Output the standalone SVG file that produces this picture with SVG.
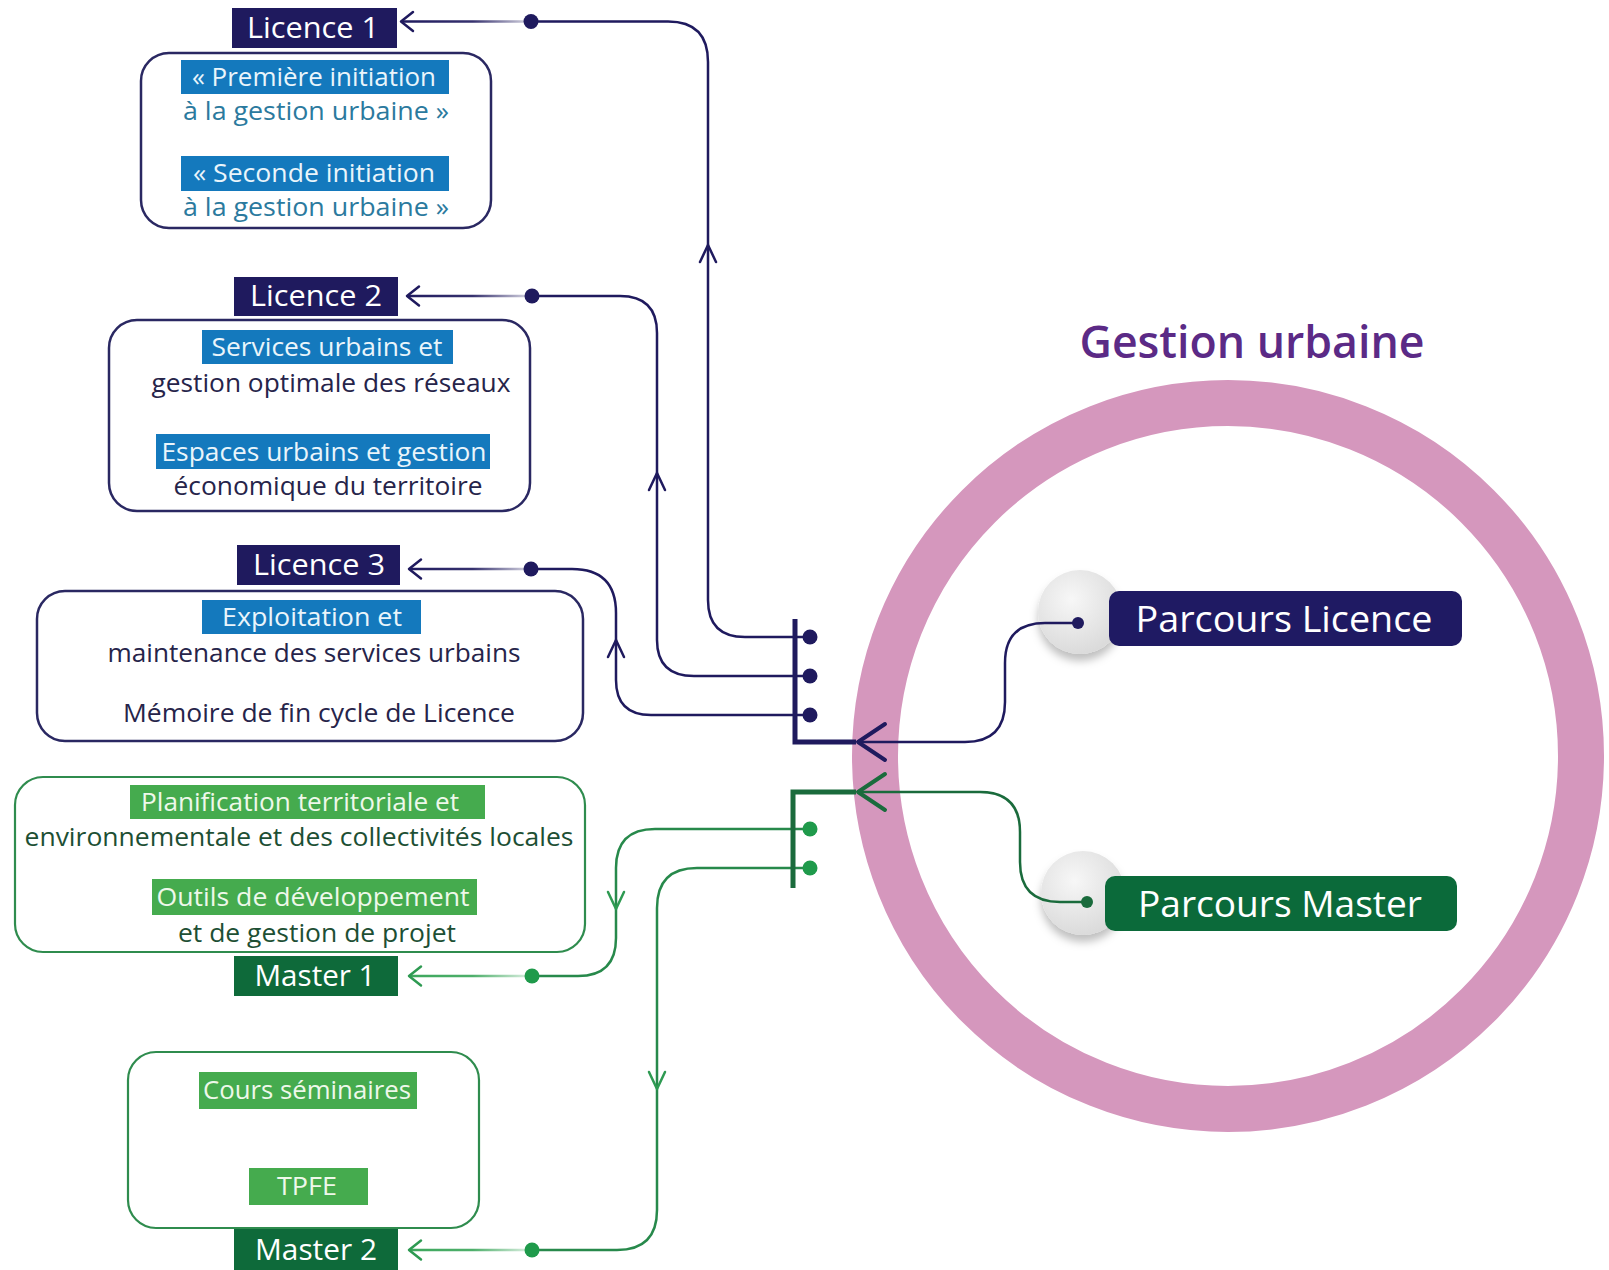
<svg xmlns="http://www.w3.org/2000/svg" width="1609" height="1270" viewBox="0 0 1609 1270">
<style>
text{font-family:"Open Sans","Noto Sans","Liberation Sans",sans-serif;}
.lbl{fill:#ffffff;font-size:29px;text-anchor:middle;}
.body{font-size:25px;text-anchor:middle;}
.hl{fill:#eaf5fb;}
.hlg{fill:#eef8ea;}
.tl1{fill:#2b7a9e;}
.tnv{fill:#26244a;}
.tgr{fill:#1d4f34;}
.navybox{fill:#1f1a5e;}
.greenbox{fill:#0e6a3a;}
.bluehl{fill:#1479bd;}
.greenhl{fill:#45ab4e;}
.frameN{fill:#ffffff;stroke:#2a2862;stroke-width:2.5;}
.frameG{fill:#ffffff;stroke:#2f8c4e;stroke-width:2.2;}
.cn{fill:none;stroke:#1f1a5e;stroke-width:2.5;}
.cg{fill:none;stroke:#27894b;stroke-width:2.5;}
.chevN{fill:none;stroke:#1f1a5e;stroke-width:2.5;stroke-linecap:round;stroke-linejoin:round;}
.chevG{fill:none;stroke:#2e9a52;stroke-width:2.5;stroke-linecap:round;stroke-linejoin:round;}
.dotN{fill:#1f1a5e;}
.dotG{fill:#1f9a4b;}
.par{fill:#ffffff;font-size:37px;text-anchor:middle;}
</style>
<defs>
<linearGradient id="fadeN" gradientUnits="userSpaceOnUse" x1="400" y1="0" x2="532" y2="0">
<stop offset="0" stop-color="#1f1a5e" stop-opacity="1"/>
<stop offset="0.55" stop-color="#1f1a5e" stop-opacity="0.9"/>
<stop offset="1" stop-color="#1f1a5e" stop-opacity="0.15"/>
</linearGradient>
<linearGradient id="fadeG" gradientUnits="userSpaceOnUse" x1="400" y1="0" x2="532" y2="0">
<stop offset="0" stop-color="#3aa65a" stop-opacity="1"/>
<stop offset="0.55" stop-color="#3aa65a" stop-opacity="0.9"/>
<stop offset="1" stop-color="#3aa65a" stop-opacity="0.15"/>
</linearGradient>
<radialGradient id="knob" cx="0.4" cy="0.35" r="0.7">
<stop offset="0" stop-color="#f7f7f7"/>
<stop offset="1" stop-color="#d9d9d9"/>
</radialGradient>
<filter id="shadow" x="-40%" y="-40%" width="180%" height="190%">
<feDropShadow dx="0" dy="7" stdDeviation="4" flood-color="#000000" flood-opacity="0.25"/>
</filter>
</defs>

<!-- big ring -->
<circle cx="1228" cy="756" r="353" fill="none" stroke="#d597bd" stroke-width="46"/>

<g id="title">
<text x="1252" y="358" font-size="45" font-weight="600" fill="#5b2a86" text-anchor="middle" textLength="345" lengthAdjust="spacingAndGlyphs">Gestion urbaine</text>
</g>

<g id="parcours-licence">
<circle cx="1080" cy="612" r="42" fill="url(#knob)" filter="url(#shadow)"/>
<rect x="1109" y="591" width="353" height="55" rx="10" fill="#1f1a63"/>
<text class="par" x="1284" y="632" textLength="297" lengthAdjust="spacingAndGlyphs">Parcours Licence</text>
</g>

<g id="parcours-master">
<circle cx="1083" cy="893" r="42" fill="url(#knob)" filter="url(#shadow)"/>
<rect x="1105" y="876" width="352" height="55" rx="10" fill="#0b6a3a"/>
<text class="par" x="1280" y="917" textLength="284" lengthAdjust="spacingAndGlyphs">Parcours Master</text>
</g>

<g id="connectors">
<!-- label arrows -->
<line x1="402" y1="21.5" x2="531" y2="21.5" stroke="url(#fadeN)" stroke-width="2.5"/>
<polyline class="chevN" points="413,12 401,21.5 413,31"/>
<line x1="408" y1="296" x2="532" y2="296" stroke="url(#fadeN)" stroke-width="2.5"/>
<polyline class="chevN" points="419,286.5 407,296 419,305.5"/>
<line x1="410" y1="569" x2="531" y2="569" stroke="url(#fadeN)" stroke-width="2.5"/>
<polyline class="chevN" points="421,559.5 409,569 421,578.5"/>
<line x1="410" y1="976" x2="532" y2="976" stroke="url(#fadeG)" stroke-width="2.5"/>
<polyline class="chevG" points="421,966.5 409,976 421,985.5"/>
<line x1="410" y1="1250" x2="532" y2="1250" stroke="url(#fadeG)" stroke-width="2.5"/>
<polyline class="chevG" points="421,1240.5 409,1250 421,1259.5"/>

<!-- licence routes -->
<path class="cn" d="M531 21.5 H668 Q708 21.5 708 62 V600 Q708 637 745 637 H810"/>
<polyline class="chevN" points="700,262 708,245 716,262"/>
<path class="cn" d="M532 296 H620 Q657 296 657 333 V640 Q657 676 694 676 H810"/>
<polyline class="chevN" points="649,490 657,473 665,490"/>
<path class="cn" d="M531 569 H572 Q616 569 616 613 V680 Q616 715 651 715 H810"/>
<polyline class="chevN" points="608,657 616,640 624,657"/>

<!-- master routes -->
<path class="cg" d="M810 829 H655 Q616 829 616 868 V938 Q616 976 578 976 H532"/>
<polyline class="chevG" points="608,892 616,909 624,892"/>
<path class="cg" d="M810 868 H697 Q657 868 657 908 V1210 Q657 1250 617 1250 H532"/>
<polyline class="chevG" points="649,1072 657,1089 665,1072"/>

<!-- brackets -->
<path d="M795 619 V742 H856" fill="none" stroke="#1f1a5e" stroke-width="5"/>
<path d="M793 888 V792 H856" fill="none" stroke="#1a6b3c" stroke-width="5"/>

<!-- parcours links -->
<path class="cn" d="M857 742 H965 Q1005 742 1005 702 V663 Q1005 623 1045 623 H1078"/>
<polyline fill="none" stroke="#1f1a5e" stroke-width="4" stroke-linecap="round" stroke-linejoin="round" points="885,724 858,742 885,760"/>
<path d="M857 792 H980 Q1020 792 1020 832 V862 Q1020 902 1060 902 H1087" fill="none" stroke="#1a6b3c" stroke-width="2.5"/>
<polyline fill="none" stroke="#1a6b3c" stroke-width="4" stroke-linecap="round" stroke-linejoin="round" points="885,774 858,792 885,810"/>

<!-- dots -->
<circle class="dotN" cx="531" cy="21.5" r="7.5"/>
<circle class="dotN" cx="532" cy="296" r="7.5"/>
<circle class="dotN" cx="531" cy="569" r="7.5"/>
<circle class="dotN" cx="810" cy="637" r="7.5"/>
<circle class="dotN" cx="810" cy="676" r="7.5"/>
<circle class="dotN" cx="810" cy="715" r="7.5"/>
<circle class="dotG" cx="810" cy="829" r="7.5"/>
<circle class="dotG" cx="810" cy="868" r="7.5"/>
<circle class="dotG" cx="532" cy="976" r="7.5"/>
<circle class="dotG" cx="532" cy="1250" r="7.5"/>
<circle class="dotN" cx="1078" cy="623" r="6"/>
<circle cx="1087" cy="902" r="6" fill="#1a6b3c"/>
</g>

<g id="licence1">
<rect class="frameN" x="141" y="53" width="350" height="175" rx="28"/>
<rect class="navybox" x="232" y="8" width="165" height="40"/>
<text class="lbl" x="313" y="38" textLength="132" lengthAdjust="spacingAndGlyphs">Licence 1</text>
<rect class="bluehl" x="181" y="60" width="268" height="34"/>
<text class="body hl" x="314" y="86" textLength="244" lengthAdjust="spacingAndGlyphs">« Première initiation</text>
<text class="body tl1" x="316" y="120" textLength="266" lengthAdjust="spacingAndGlyphs">à la gestion urbaine  »</text>
<rect class="bluehl" x="181" y="156" width="268" height="35"/>
<text class="body hl" x="314" y="182" textLength="242" lengthAdjust="spacingAndGlyphs">« Seconde initiation</text>
<text class="body tl1" x="316" y="216" textLength="266" lengthAdjust="spacingAndGlyphs">à la gestion urbaine  »</text>
</g>

<g id="licence2">
<rect class="frameN" x="109" y="320" width="421" height="191" rx="28"/>
<rect class="navybox" x="234" y="277" width="164" height="39"/>
<text class="lbl" x="316" y="306" textLength="132" lengthAdjust="spacingAndGlyphs">Licence 2</text>
<rect class="bluehl" x="202" y="330" width="251" height="34"/>
<text class="body hl" x="327" y="356" textLength="231" lengthAdjust="spacingAndGlyphs">Services urbains et</text>
<text class="body tnv" x="331" y="392" textLength="359" lengthAdjust="spacingAndGlyphs">gestion optimale des réseaux</text>
<rect class="bluehl" x="156" y="434" width="334" height="35"/>
<text class="body hl" x="324" y="461" textLength="325" lengthAdjust="spacingAndGlyphs">Espaces urbains et gestion</text>
<text class="body tnv" x="328" y="495" textLength="309" lengthAdjust="spacingAndGlyphs">économique du territoire</text>
</g>

<g id="licence3">
<rect class="frameN" x="37" y="591" width="546" height="150" rx="28"/>
<rect class="navybox" x="237" y="545" width="163" height="40"/>
<text class="lbl" x="319" y="575" textLength="132" lengthAdjust="spacingAndGlyphs">Licence 3</text>
<rect class="bluehl" x="202" y="600" width="219" height="34"/>
<text class="body hl" x="312" y="626" textLength="180" lengthAdjust="spacingAndGlyphs">Exploitation et</text>
<text class="body tnv" x="314" y="662" textLength="413" lengthAdjust="spacingAndGlyphs">maintenance des services urbains</text>
<text class="body tnv" x="319" y="722" textLength="392" lengthAdjust="spacingAndGlyphs">Mémoire de fin cycle de Licence</text>
</g>

<g id="master1">
<rect class="frameG" x="15" y="777" width="570" height="175" rx="28"/>
<rect class="greenhl" x="130" y="785" width="355" height="34"/>
<text class="body hlg" x="300" y="811" textLength="318" lengthAdjust="spacingAndGlyphs">Planification territoriale et</text>
<text class="body tgr" x="299" y="846" textLength="549" lengthAdjust="spacingAndGlyphs">environnementale et des collectivités locales</text>
<rect class="greenhl" x="152" y="879" width="325" height="36"/>
<text class="body hlg" x="313" y="906" textLength="313" lengthAdjust="spacingAndGlyphs">Outils de développement</text>
<text class="body tgr" x="317" y="942" textLength="278" lengthAdjust="spacingAndGlyphs">et de gestion de projet</text>
<rect class="greenbox" x="234" y="956" width="164" height="40"/>
<text class="lbl" x="315" y="986" textLength="121" lengthAdjust="spacingAndGlyphs">Master 1</text>
</g>

<g id="master2">
<rect class="frameG" x="128" y="1052" width="351" height="176" rx="28"/>
<rect class="greenhl" x="199" y="1072" width="218" height="37"/>
<text class="body hlg" x="307" y="1099" textLength="208" lengthAdjust="spacingAndGlyphs">Cours séminaires</text>
<rect class="greenhl" x="249" y="1168" width="119" height="37"/>
<text class="body hlg" x="307" y="1195" textLength="60" lengthAdjust="spacingAndGlyphs">TPFE</text>
<rect class="greenbox" x="234" y="1229" width="164" height="41"/>
<text class="lbl" x="316" y="1260" textLength="122" lengthAdjust="spacingAndGlyphs">Master 2</text>
</g>
</svg>
